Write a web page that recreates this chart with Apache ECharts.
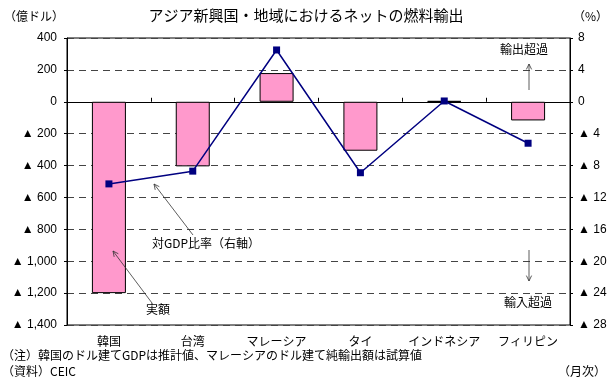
<!DOCTYPE html>
<html>
<head>
<meta charset="utf-8">
<script src="https://cdn.jsdelivr.net/npm/echarts@6/dist/echarts.min.js"></script>
<style>
  html, body { margin: 0; padding: 0; background: #fff; }
  #chart { width: 612px; height: 381px; }
</style>
</head>
<body>
<div id="chart"></div>
<script>
// data
const countries = ['韓国', '台湾', 'マレーシア', 'タイ', 'インドネシア', 'フィリピン'];
const netExports = [-1200, -405, 180, -307, 5, -117];   // 億ドル (left axis)
const gdpRatio = [-10.3, -8.7, 6.5, -8.9, 0.1, -5.2];   // % (right axis)

const FONT = "'Liberation Sans', 'Noto Sans CJK JP', sans-serif";
const JP = "'Noto Sans CJK JP', sans-serif";

function tri(v) {
  return v < 0 ? '▲ ' + Math.abs(v).toLocaleString('en-US') : String(v);
}

// simple annotation arrow: line from (x1,y1) to head at (x2,y2)
function arrow(x1, y1, x2, y2) {
  const a = Math.atan2(y2 - y1, x2 - x1);
  const L = 6, s = 0.45;
  const p1 = [x2 - L * Math.cos(a - s), y2 - L * Math.sin(a - s)];
  const p2 = [x2 - L * Math.cos(a + s), y2 - L * Math.sin(a + s)];
  const st = { stroke: '#333', lineWidth: 0.8, fill: null };
  return [
    { type: 'line', shape: { x1: x1, y1: y1, x2: x2, y2: y2 }, style: st, z: 10 },
    { type: 'polyline', shape: { points: [p1, [x2, y2], p2] }, style: st, z: 10 }
  ];
}

const chart = echarts.init(document.getElementById('chart'));

const graphics = [
  { type: 'text', left: 'center', top: 8, style: { text: 'アジア新興国・地域におけるネットの燃料輸出', font: '15px ' + JP, fill: '#000' } },
  { type: 'text', left: 4, top: 10, style: { text: '（億ドル）', font: '12px ' + JP, fill: '#000' } },
  { type: 'text', right: 4, top: 10, style: { text: '（%）', font: '12px ' + JP, fill: '#000' } },
  { type: 'text', left: 2, top: 349, style: { text: '（注）韓国のドル建てGDPは推計値、マレーシアのドル建て純輸出額は試算値', font: '12px ' + JP, fill: '#000' } },
  { type: 'text', left: 2, top: 365, style: { text: '（資料）CEIC', font: '12px ' + JP, fill: '#000' } },
  { type: 'text', right: 6, top: 365, style: { text: '（月次）', font: '12px ' + JP, fill: '#000' } },
  { type: 'text', x: 152, y: 237, style: { text: '対GDP比率（右軸）', font: '12px ' + JP, fill: '#000' }, z: 10 },
  { type: 'text', x: 146, y: 303, style: { text: '実額', font: '12px ' + JP, fill: '#000' }, z: 10 },
  { type: 'text', x: 500, y: 43, style: { text: '輸出超過', font: '12px ' + JP, fill: '#000' }, z: 10 },
  { type: 'text', x: 504, y: 296, style: { text: '輸入超過', font: '12px ' + JP, fill: '#000' }, z: 10 }
].concat(
  arrow(193, 235, 154, 184),
  arrow(152, 303, 113, 251),
  arrow(529, 90, 529, 64),
  arrow(529, 250, 529, 281)
);

const option = {
  animation: false,
  textStyle: { fontFamily: FONT },
  grid: {
    left: 67, right: 42, top: 38, bottom: 56,
    show: true, borderColor: '#000', borderWidth: 1, backgroundColor: 'transparent'
  },
  xAxis: [
    {
      type: 'category',
      data: countries,
      position: 'bottom',
      axisLine: { show: false, onZero: false },
      axisTick: { show: false },
      axisLabel: { color: '#000', fontSize: 12, fontFamily: JP, margin: 10, interval: 0 }
    },
    {
      type: 'category',
      data: countries,
      position: 'bottom',
      axisLine: { show: true, onZero: true, onZeroAxisIndex: 0, lineStyle: { color: '#000', width: 1 } },
      axisTick: { show: true, inside: true, length: 4, interval: 0, lineStyle: { color: '#000' } },
      axisLabel: { show: false, interval: 0 }
    }
  ],
  yAxis: [
    {
      type: 'value',
      position: 'left',
      min: -1400, max: 400, interval: 200,
      axisLine: { show: true, lineStyle: { color: '#000' } },
      axisTick: { show: true, length: 3, lineStyle: { color: '#000' } },
      axisLabel: { color: '#000', fontSize: 12, margin: 10, formatter: tri },
      splitLine: { show: true, lineStyle: { color: '#444', width: 1, type: [7, 5] } }
    },
    {
      type: 'value',
      position: 'right',
      min: -28, max: 8, interval: 4,
      axisLine: { show: true, lineStyle: { color: '#000' } },
      axisTick: { show: true, length: 3, lineStyle: { color: '#000' } },
      axisLabel: { color: '#000', fontSize: 12, margin: 8, formatter: tri },
      splitLine: { show: false }
    }
  ],
  series: [
    {
      name: '実額',
      type: 'bar',
      xAxisIndex: 0,
      yAxisIndex: 0,
      data: netExports,
      barWidth: 34,
      itemStyle: { color: '#FF99CC', borderColor: '#000', borderWidth: 1 }
    },
    {
      name: '対GDP比率',
      type: 'line',
      xAxisIndex: 0,
      yAxisIndex: 1,
      data: gdpRatio,
      symbol: 'rect',
      symbolSize: 7,
      color: '#000080',
      lineStyle: { color: '#000080', width: 1.5 },
      itemStyle: { color: '#000080' },
      z: 5
    }
  ],
  graphic: graphics
};

chart.setOption(option);
</script>
</body>
</html>
